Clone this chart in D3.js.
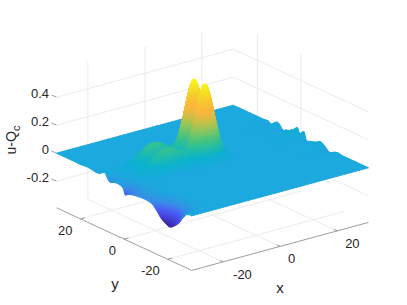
<!DOCTYPE html>
<html>
<head>
<meta charset="utf-8">
<script src="https://cdn.jsdelivr.net/npm/d3@7"></script>
<style>
    html, body { margin: 0; padding: 0; background: #fff; }
    text { font-family: "Liberation Sans", Arial, sans-serif; fill: #262626; }
</style>
</head>
<body>
<svg class="surf" width="407" height="305"></svg>
<script>
// surface, rows follow gridX, columns follow gridY
const gridX = [-31,-29,-27,-25,-22,-19,-16,-13,-11,-9,-7.5,-6,-4.5,-3.5,-2.5,-1.5,-0.5,1,2.5,4,6,8,12,20,28,31];
const gridY = [-31,-28,-25,-23,-21,-19,-17,-15,-13,-11,-9,-7,-5,-3.5,-2.5,-1.5,-0.5,0.5,1.5,2.5,3.5,4.5,5.5,6.5,7.5,8.5,10,11.5,13,15,17,20,23,26,28,31];
const surfaceZ = [
[0,-.012,-.095,-.13,-.152,-.14,-.118,-.08,-.048,-.038,-.036,-.038,-.043,-.048,-.052,-.06,-.07,-.03,-.018,-.015,-.015,-.018,-.025,-.03,-.015,.015,.025,-.005,-.006,0,.004,-.002,0,0,0,0],
[0,-.005,-.05,-.07,-.083,-.077,-.065,-.044,-.026,-.02,-.018,-.02,-.022,-.024,-.026,-.03,-.035,-.016,-.009,-.007,-.007,-.009,-.013,-.016,-.007,.011,.014,-.003,-.004,0,.003,0,0,0,0,0],
[0,-.002,-.02,-.03,-.035,-.032,-.027,-.018,-.011,-.008,-.008,-.008,-.009,-.009,-.009,-.009,-.008,-.003,0,.001,.001,.001,0,-.002,.002,.01,.01,-.001,-.002,0,.002,0,0,0,0,0],
[0,0,-.005,-.007,-.008,-.007,-.006,-.004,-.002,0,0,0,0,.001,.003,.007,.013,.019,.022,.02,.016,.014,.016,.02,.022,.019,.01,.003,.001,0,0,0,0,0,0,0],
[0,0,0,0,0,0,0,0,0,0,0,0,0,.003,.008,.019,.037,.053,.061,.055,.045,.038,.045,.055,.061,.053,.028,.008,.001,0,0,0,0,0,0,0],
[0,0,0,0,0,0,0,0,0,0,0,0,.001,.005,.016,.037,.07,.101,.116,.106,.086,.074,.086,.106,.116,.101,.053,.016,.003,0,0,0,0,0,0,0],
[0,0,0,0,0,0,0,0,0,0,0,0,.001,.007,.02,.048,.092,.132,.152,.138,.112,.096,.112,.138,.152,.132,.069,.02,.003,0,0,0,0,0,0,0],
[0,0,0,0,0,0,0,0,0,0,0,0,.001,.006,.02,.046,.088,.128,.146,.133,.108,.093,.108,.133,.146,.128,.067,.02,.003,0,0,0,0,0,0,0],
[0,0,0,0,0,0,0,0,0,0,0,0,.001,.005,.017,.041,.079,.112,.125,.111,.091,.083,.097,.115,.12,.102,.053,.016,.003,0,0,0,0,0,0,0],
[0,0,0,0,0,0,0,0,0,0,0,0,0,.004,.015,.043,.086,.118,.117,.092,.079,.089,.108,.109,.094,.07,.034,.01,.002,0,0,0,0,0,0,0],
[0,0,0,0,0,0,0,0,0,0,0,0,0,.004,.02,.064,.134,.178,.156,.108,.099,.138,.171,.15,.098,.057,.024,.007,.001,0,0,0,0,0,0,0],
[0,0,0,0,0,0,0,0,0,0,0,0,0,.006,.031,.107,.227,.296,.244,.152,.146,.233,.292,.237,.127,.053,.016,.004,.001,0,0,0,0,0,0,0],
[0,0,0,0,0,0,0,0,0,0,0,0,0,.008,.045,.159,.341,.441,.354,.211,.208,.348,.439,.346,.17,.057,.01,.002,0,0,0,0,0,0,0,0],
[0,0,0,0,0,0,0,0,0,0,0,0,0,.009,.052,.187,.401,.519,.414,.244,.242,.41,.517,.404,.194,.06,.008,.001,0,0,0,0,0,0,0,0],
[0,0,0,0,0,0,0,0,0,0,0,0,0,.009,.056,.2,.429,.554,.441,.259,.257,.439,.553,.431,.204,.06,.006,.001,0,0,0,0,0,0,0,0],
[0,0,0,0,0,0,0,0,0,0,0,0,0,.009,.053,.193,.414,.536,.425,.249,.248,.424,.535,.416,.196,.057,.005,.001,0,0,0,0,0,0,0,0],
[0,0,0,0,0,0,0,0,0,0,0,0,0,.008,.047,.167,.36,.465,.368,.214,.214,.368,.465,.36,.167,.047,.003,0,0,0,0,0,0,0,0,0],
[0,0,0,0,0,0,0,0,0,0,0,0,0,.005,.031,.112,.242,.312,.247,.144,.144,.247,.312,.242,.112,.031,.002,0,0,0,0,0,0,0,0,0],
[0,0,0,0,0,0,0,0,0,0,0,0,0,.003,.017,.06,.129,.166,.131,.076,.076,.131,.166,.129,.06,.017,.001,0,0,0,0,0,0,0,0,0],
[0,0,0,0,0,0,0,0,0,0,0,0,0,.001,.007,.025,.053,.069,.055,.032,.032,.055,.069,.053,.025,.007,0,0,0,0,0,0,0,0,0,0],
[0,0,0,0,0,0,0,0,0,0,0,0,0,0,.002,.005,.012,.015,.012,.007,.007,.012,.015,.012,.005,.002,0,0,0,0,0,0,0,0,0,0],
[0,0,0,0,0,0,0,0,0,0,0,0,0,0,0,.001,.002,.002,.002,.001,.001,.002,.002,.002,.001,0,0,0,0,0,0,0,0,0,0,0],
[0,0,0,0,0,0,0,0,0,0,0,0,0,0,0,0,0,0,0,0,0,0,0,0,0,0,0,0,0,0,0,0,0,0,0,0],
[0,0,0,0,0,0,0,0,0,0,0,0,0,0,0,0,0,0,0,0,0,0,0,0,0,0,0,0,0,0,0,0,0,0,0,0],
[0,0,0,0,0,0,.002,-.002,-.006,.004,.01,.004,0,-.004,-.004,.015,.01,.005,.018,.014,.007,.005,0,0,-.004,-.004,.007,.007,-.007,.002,0,0,0,0,0,0],
[0,0,0,0,0,0,.007,-.005,-.018,.01,.028,.01,0,-.01,-.012,.043,.03,.015,.05,.04,.02,.015,0,0,-.012,-.012,.02,.02,-.02,.005,0,0,0,0,0,0]
];

const xTicks = [-20, 0, 20];
const yTicks = [-20, 0, 20];
const zTicks = [-0.2, 0, 0.2, 0.4];
const xLim = [-31, 31];
const yLim = [-31, 31];
const zLim = [-0.39, 0.59];

const parulaStops = [0, .06, .11, .16, .217, .3, .4, .47, .55, .63, .7, .75, .85, 1];
const parulaColors = ['#3a2398','#4440d8','#4a5cf4','#3a8aea','#1ba9de','#0cb3ce','#2bc09e','#52c57a','#8cc75f','#c8c14a','#f2b93f','#fdb83b','#f6d02e','#f9fb15'];

const svg = d3.select('.surf');

// orthographic view, each data axis gets a scale for screen x and one for screen y
const center = {x: 212.5, y: 160.5};
const xToH = d3.scaleLinear().domain(xLim).range([-88.4, 88.4]);
const xToV = d3.scaleLinear().domain(xLim).range([24, -24]);
const yToH = d3.scaleLinear().domain(yLim).range([67.6, -67.6]);
const yToV = d3.scaleLinear().domain(yLim).range([31.3, -31.3]);
const zToV = d3.scaleLinear().domain([0, 1]).range([0, -140]);

function project(x, y, z)
{
    return [
        center.x + xToH(x) + yToH(y),
        center.y + xToV(x) + yToV(y) + zToV(z)
    ];
}

const colorT = d3.scaleLinear().domain([-0.155, 0.56]).range([0, 1]).clamp(true);
const parula = d3.scaleLinear().domain(parulaStops).range(parulaColors);

function line3d(group, a, b, color, width)
{
    const p = project(a[0], a[1], a[2]);
    const q = project(b[0], b[1], b[2]);
    group.append('line')
        .attr('x1', p[0]).attr('y1', p[1])
        .attr('x2', q[0]).attr('y2', q[1])
        .attr('stroke', color)
        .attr('stroke-width', width);
}

// grid on the floor and the two back walls
const gridColor = '#e6e6e6';
const grid = svg.append('g').attr('class', 'grid');
for(let x of xTicks){
    line3d(grid, [x, yLim[0], zLim[0]], [x, yLim[1], zLim[0]], gridColor, 0.8);
    line3d(grid, [x, yLim[1], zLim[0]], [x, yLim[1], zLim[1]], gridColor, 0.8);
}
for(let y of yTicks){
    line3d(grid, [xLim[0], y, zLim[0]], [xLim[1], y, zLim[0]], gridColor, 0.8);
    // the y=-20 upright does not show in the reference
    if(y >= 0){
        line3d(grid, [xLim[1], y, zLim[0]], [xLim[1], y, zLim[1]], gridColor, 0.8);
    }
}
for(let z of zTicks){
    line3d(grid, [xLim[0], yLim[1], z], [xLim[1], yLim[1], z], gridColor, 0.8);
    line3d(grid, [xLim[1], yLim[1], z], [xLim[1], yLim[0], z], gridColor, 0.8);
}

// axes
const axisColor = '#858585';
const axes = svg.append('g').attr('class', 'axes');
line3d(axes, [xLim[0], yLim[0], zLim[0]], [xLim[1], yLim[0], zLim[0]], axisColor, 0.8);
line3d(axes, [xLim[0], yLim[0], zLim[0]], [xLim[0], yLim[1], zLim[0]], axisColor, 0.8);
for(let x of xTicks){
    line3d(axes, [x, yLim[0], zLim[0]], [x, yLim[0] + 1.6, zLim[0]], axisColor, 0.8);
}
for(let y of yTicks){
    line3d(axes, [xLim[0], y, zLim[0]], [xLim[0] + 1.6, y, zLim[0]], axisColor, 0.8);
}
for(let z of zTicks){
    line3d(axes, [xLim[0], yLim[1], z], [xLim[0], yLim[1] + 2.3, z], axisColor, 0.8);
}

// cubic between grid nodes so the peaks render round, same idea as interpolated shading
function hermite(ts, vs, k, u)
{
    const h = ts[k + 1] - ts[k];
    const m0 = k > 0 ? (vs[k + 1] - vs[k - 1]) / (ts[k + 1] - ts[k - 1]) : (vs[k + 1] - vs[k]) / h;
    const m1 = k < ts.length - 2 ? (vs[k + 2] - vs[k]) / (ts[k + 2] - ts[k]) : (vs[k + 1] - vs[k]) / h;
    const u2 = u * u, u3 = u2 * u;
    return (2 * u3 - 3 * u2 + 1) * vs[k] + (u3 - 2 * u2 + u) * h * m0 + (3 * u2 - 2 * u3) * vs[k + 1] + (u3 - u2) * h * m1;
}

function surfaceAt(i, j, u, v)
{
    const col = [];
    for(let r = Math.max(0, i - 1); r <= Math.min(gridX.length - 1, i + 2); r++){
        col[r] = hermite(gridY, surfaceZ[r], j, v);
    }
    return hermite(gridX, col, i, u);
}

// painter's order: far corner is high x, high y
const cells = svg.append('g').attr('class', 'cells');
for(let i = gridX.length - 2; i >= 0; i--){
    for(let j = gridY.length - 2; j >= 0; j--){
        const corners = [surfaceZ[i][j], surfaceZ[i][j + 1], surfaceZ[i + 1][j], surfaceZ[i + 1][j + 1]];
        const range = d3.max(corners) - d3.min(corners);
        const n = Math.min(10, Math.max(1, Math.ceil(range / 0.01)));
        const at = (u, v) => {
            const x = gridX[i] + (gridX[i + 1] - gridX[i]) * u;
            const y = gridY[j] + (gridY[j + 1] - gridY[j]) * v;
            const z = surfaceAt(i, j, u, v);
            return {p: project(x, y, z), z: z};
        };
        for(let a = n - 1; a >= 0; a--){
            for(let b = n - 1; b >= 0; b--){
                const c = [at(a / n, b / n), at(a / n, (b + 1) / n), at((a + 1) / n, (b + 1) / n), at((a + 1) / n, b / n)];
                const col = parula(colorT(d3.mean(c, d => d.z)));
                cells.append('polygon')
                    .attr('points', c.map(d => d.p[0].toFixed(2) + ',' + d.p[1].toFixed(2)).join(' '))
                    .attr('fill', col)
                    .attr('stroke', col)
                    .attr('stroke-width', 1)
                    .attr('stroke-linejoin', 'round');
            }
        }
    }
}

// tick labels
const labels = svg.append('g').attr('class', 'labels').style('font-size', '13px');
for(let z of zTicks){
    const p = project(xLim[0], yLim[1], z);
    labels.append('text')
        .attr('x', p[0] - 7.5)
        .attr('y', p[1] + 0.5)
        .attr('text-anchor', 'end')
        .text(z);
}
for(let y of yTicks){
    const p = project(xLim[0], y, zLim[0]);
    labels.append('text')
        .attr('x', p[0] - 8)
        .attr('y', p[1] + 15.7)
        .attr('text-anchor', 'end')
        .text(y);
}
for(let x of xTicks){
    const p = project(x, yLim[0], zLim[0]);
    labels.append('text')
        .attr('x', p[0] + (x < 0 ? 10 : 8))
        .attr('y', p[1] + 17)
        .attr('text-anchor', 'start')
        .text(x);
}

// axis titles
const xLabelAt = project(0, yLim[0], zLim[0]);
svg.append('text')
    .attr('x', xLabelAt[0])
    .attr('y', xLabelAt[1] + 47)
    .attr('text-anchor', 'middle')
    .style('font-size', '15px')
    .text('x');
const yLabelAt = project(xLim[0], 0, zLim[0]);
svg.append('text')
    .attr('x', yLabelAt[0] - 9)
    .attr('y', yLabelAt[1] + 50)
    .attr('text-anchor', 'middle')
    .style('font-size', '15px')
    .text('y');
const zTitle = svg.append('text')
    .attr('transform', 'translate(16, 140) rotate(-90)')
    .attr('text-anchor', 'middle')
    .style('font-size', '14px');
zTitle.append('tspan').text('u-Q');
zTitle.append('tspan').attr('dy', 4).style('font-size', '11px').text('c');
</script>
</body>
</html>
